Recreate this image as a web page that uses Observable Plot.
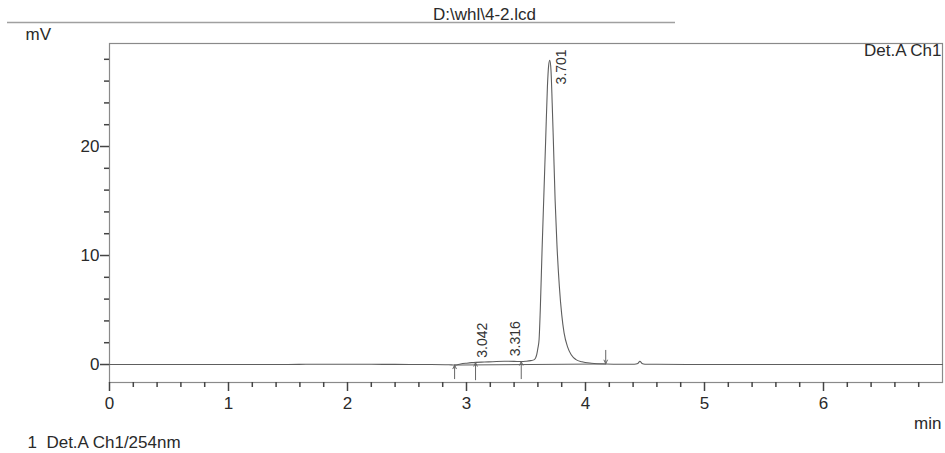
<!DOCTYPE html>
<html>
<head>
<meta charset="utf-8">
<script src="https://cdn.jsdelivr.net/npm/d3@7"></script>
<script src="https://cdn.jsdelivr.net/npm/@observablehq/plot@0.6"></script>
<style>
  html, body { margin: 0; padding: 0; background: #fff; }
  #chart { width: 945px; height: 453px; }
</style>
</head>
<body>
<div id="chart"></div>
<script>
// Chromatogram signal (time in min, signal in mV)
const times = [0, 0.5, 1.0, 1.5, 1.65, 1.8, 2.0, 2.2, 2.4, 2.7, 2.85, 2.90, 2.95, 3.00, 3.042, 3.08, 3.15, 3.22, 3.316, 3.40,
  3.46, 3.50, 3.54, 3.57, 3.59, 3.60, 3.61, 3.62, 3.635, 3.65, 3.665, 3.68, 3.69, 3.70, 3.71, 3.72, 3.73, 3.745, 3.76, 3.78,
  3.80, 3.82, 3.85, 3.88, 3.92, 3.97, 4.05, 4.17, 4.30, 4.41, 4.44, 4.457, 4.475, 4.50, 4.60, 5.0, 5.5, 6.0, 6.5, 7.0];
const mV = [0, 0, 0, 0, 0.02, 0.03, 0.03, 0.02, 0.01, 0, -0.02, -0.05, 0.05, 0.12, 0.17, 0.2, 0.23, 0.26, 0.3, 0.29,
  0.27, 0.3, 0.36, 0.45, 0.9, 1.5, 2.3, 5.0, 10.5, 15.5, 20.5, 25.5, 27.4, 27.9, 27.0, 24.0, 20.5, 15.0, 11.0, 7.2,
  4.6, 2.9, 1.6, 0.9, 0.45, 0.25, 0.12, 0.05, 0.03, 0.03, 0.1, 0.3, 0.1, 0.03, 0.02, 0, 0, 0, 0, 0];

// Peak retention times and labels
const peakTimes = [3.042, 3.316, 3.701];
const peakLabels = ["3.042", "3.316", "3.701"];
const peakHeights = [0.17, 0.3, 27.9];

// Integration baseline
const baseTimes = [2.90, 4.17];
const baseValues = [-0.05, 0.05];

// Peak start/boundary markers (up arrows) and end marker (down arrow)
const upTimes = [2.90, 3.076, 3.46];
const upFrom = [-1.3, -1.4, -1.3];
const upTo = [-0.05, 0.18, 0.27];
const downTimes = [4.17];
const downFrom = [1.3];
const downTo = [0.07];

// Axes
const xTicks = [0, 1, 2, 3, 4, 5, 6];
const yTicks = [0, 10, 20];
const xMinorTicks = [0.2, 0.4, 0.6, 0.8, 1.2, 1.4, 1.6, 1.8, 2.2, 2.4, 2.6, 2.8, 3.2, 3.4, 3.6, 3.8,
  4.2, 4.4, 4.6, 4.8, 5.2, 5.4, 5.6, 5.8, 6.2, 6.4, 6.6, 6.8];
const yMinorTicks = [2, 4, 6, 8, 12, 14, 16, 18, 22, 24, 26, 28];
const xDomain = [0, 7];
const yDomain = [-1.65, 29.45];

const title = "D:\\whl\\4-2.lcd";
const yUnit = "mV";
const xUnit = "min";
const channel = "Det.A Ch1";
const footer = "1\u00a0\u00a0Det.A Ch1/254nm";

const signal = times.map((t, i) => ({t, v: mV[i]}));
const peaks = peakTimes.map((t, i) => ({t, v: peakHeights[i], label: peakLabels[i]}));
const baseline = baseTimes.map((t, i) => ({t, v: baseValues[i]}));
const ups = upTimes.map((t, i) => ({t, a: upFrom[i], b: upTo[i]}));
const downs = downTimes.map((t, i) => ({t, a: downFrom[i], b: downTo[i]}));

const W = 945, H = 453, mT = 43, mB = 71, mL = 109, mR = 3;

const lineColor = "#5e5e5e";
const axisColor = "#8a8a8a";
const tickColor = "#555";
const textColor = "#2a2a2a";

const chart = Plot.plot({
  width: W,
  height: H,
  marginTop: mT,
  marginBottom: mB,
  marginLeft: mL,
  marginRight: mR,
  style: {fontFamily: "'Liberation Sans', Arial, sans-serif", fontSize: "17px", background: "#fff", color: textColor},
  x: {domain: xDomain},
  y: {domain: yDomain},
  marks: [
    Plot.frame({stroke: axisColor, strokeWidth: 1.2}),
    // minor ticks
    Plot.axisX({ticks: xMinorTicks, tickSize: 5, tickFormat: () => "", label: null, stroke: "#444", strokeWidth: 1.5}),
    Plot.axisY({ticks: yMinorTicks, tickSize: 5, tickFormat: () => "", label: null, stroke: "#444", strokeWidth: 1.5}),
    // major ticks
    Plot.axisX({ticks: xTicks, tickSize: 9, tickPadding: 5, label: null, stroke: "#444", strokeWidth: 1.5, fill: textColor, tickFormat: d => String(d)}),
    Plot.axisY({ticks: yTicks, tickSize: 9, tickPadding: 1, label: null, stroke: "#444", strokeWidth: 1.5, fill: textColor, tickFormat: d => String(d)}),
    Plot.line(baseline, {x: "t", y: "v", stroke: lineColor, strokeWidth: 1}),
    Plot.line(signal, {x: "t", y: "v", stroke: lineColor, strokeWidth: 1.1, curve: "monotone-x"}),
    Plot.arrow(ups, {x: "t", y1: "a", y2: "b", stroke: "#666", strokeWidth: 1, headLength: 6, headAngle: 50}),
    Plot.arrow(downs, {x: "t", y1: "a", y2: "b", stroke: "#666", strokeWidth: 1, headLength: 6, headAngle: 50}),
    Plot.text(peaks.slice(0, 2), {x: "t", y: "v", text: "label", rotate: -90, textAnchor: "start", dx: 11, dy: -5, fontSize: 14, fill: "#333"}),
    Plot.text(peaks.slice(2), {x: "t", y: "v", text: "label", rotate: -90, textAnchor: "start", dx: 12, dy: 24, fontSize: 14, fill: "#333"}),
    Plot.text([title], {frameAnchor: "top-left", text: d => d, textAnchor: "middle", lineAnchor: "middle", dx: 375, dy: -29, fontSize: 17, fill: textColor}),
    Plot.text([yUnit], {frameAnchor: "top-left", text: d => d, textAnchor: "start", lineAnchor: "middle", dx: -84, dy: -9, fontSize: 17, fill: textColor}),
    Plot.text([channel], {frameAnchor: "top-right", text: d => d, textAnchor: "end", lineAnchor: "middle", dx: -1, dy: 7, fontSize: 17, fill: textColor}),
    Plot.text([xUnit], {frameAnchor: "bottom-right", text: d => d, textAnchor: "end", lineAnchor: "middle", dx: -1, dy: 41, fontSize: 17, fill: textColor}),
    Plot.text([footer], {frameAnchor: "bottom-left", text: d => d, textAnchor: "start", lineAnchor: "middle", dx: -82, dy: 60, fontSize: 17, fill: textColor})
  ]
});

d3.select(chart).append("line")
  .attr("x1", 7).attr("x2", 675).attr("y1", 22.5).attr("y2", 22.5)
  .attr("stroke", "#a0a0a0").attr("stroke-width", 1.5);

document.getElementById("chart").appendChild(chart);
</script>
</body>
</html>
